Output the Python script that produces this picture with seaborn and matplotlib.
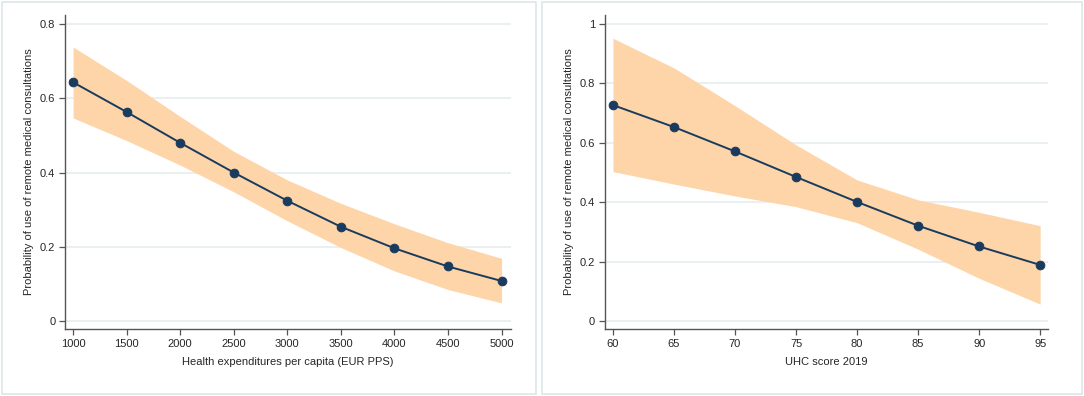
import matplotlib
matplotlib.use("Agg")
import matplotlib.pyplot as plt
import seaborn as sns
import pandas as pd
from matplotlib.patches import Rectangle

# Left panel: health expenditures per capita
spend = [1000, 1500, 2000, 2500, 3000, 3500, 4000, 4500, 5000]
spend_prob = [0.643, 0.563, 0.480, 0.400, 0.324, 0.254, 0.196, 0.147, 0.108]
spend_hi = [0.738, 0.648, 0.551, 0.457, 0.380, 0.317, 0.262, 0.211, 0.169]
spend_lo = [0.547, 0.486, 0.420, 0.348, 0.270, 0.198, 0.135, 0.085, 0.049]

# Right panel: UHC score 2019
uhc = [60, 65, 70, 75, 80, 85, 90, 95]
uhc_prob = [0.727, 0.653, 0.571, 0.485, 0.401, 0.321, 0.251, 0.189]
uhc_hi = [0.952, 0.852, 0.725, 0.593, 0.475, 0.408, 0.366, 0.321]
uhc_lo = [0.503, 0.461, 0.421, 0.385, 0.331, 0.242, 0.144, 0.057]

ylabel = "Probability of use of remote medical consultations"
navy = "#1a3b5e"
band = "#fdd5a9"
grid = "#e6eef0"
spine = "#555555"

sns.set_style("white")
plt.rcParams['font.family'] = ['Liberation Sans', 'DejaVu Sans']

fig = plt.figure(figsize=(10.84, 3.96), dpi=100)

# panel frames
for x0, w in [(2, 534), (542, 540)]:
    fig.patches.append(Rectangle((x0 / 1084, 2 / 396), w / 1084, 392 / 396,
                                 transform=fig.transFigure, fill=False,
                                 edgecolor="#dbe8e9", linewidth=1.2))


def panel(ax, x, y, lo, hi, xlabel, xlim, ylim, yticks, yticklabels, xticks):
    df = pd.DataFrame({'x': x, 'y': y})
    ax.fill_between(x, lo, hi, color=band, linewidth=0, zorder=1)
    sns.lineplot(data=df, x='x', y='y', ax=ax, color=navy, linewidth=1.4,
                 marker='o', markersize=6.2, markeredgecolor=navy, zorder=3)
    ax.set_xlim(*xlim)
    ax.set_ylim(*ylim)
    ax.set_yticks(yticks)
    ax.set_yticklabels(yticklabels)
    ax.set_xticks(xticks)
    ax.set_xticklabels([str(t) for t in xticks])
    for t in yticks:
        ax.axhline(t, color=grid, linewidth=1.2, zorder=0)
    ax.set_xlabel(xlabel, fontsize=8, labelpad=6)
    ax.set_ylabel(ylabel, fontsize=8, labelpad=4)
    ax.tick_params(axis='both', labelsize=8, length=4, width=0.9,
                   color=spine, direction='out', pad=3,
                   bottom=True, left=True)
    for s in ['top', 'right']:
        ax.spines[s].set_visible(False)
    for s in ['left', 'bottom']:
        ax.spines[s].set_color(spine)
        ax.spines[s].set_linewidth(1.0)


ax1 = fig.add_axes([0.060, 0.169, 0.411, 0.793])
panel(ax1, spend, spend_prob, spend_lo, spend_hi,
      "Health expenditures per capita (EUR PPS)",
      (925, 5084), (-0.0215, 0.824),
      [0, 0.2, 0.4, 0.6, 0.8], ["0", "0.2", "0.4", "0.6", "0.8"], spend)

ax2 = fig.add_axes([0.558, 0.169, 0.409, 0.793])
panel(ax2, uhc, uhc_prob, uhc_lo, uhc_hi, "UHC score 2019",
      (59.34, 95.66), (-0.027, 1.03),
      [0, 0.2, 0.4, 0.6, 0.8, 1.0], ["0", "0.2", "0.4", "0.6", "0.8", "1"], uhc)

fig.savefig("out.png", dpi=100, facecolor="white")
